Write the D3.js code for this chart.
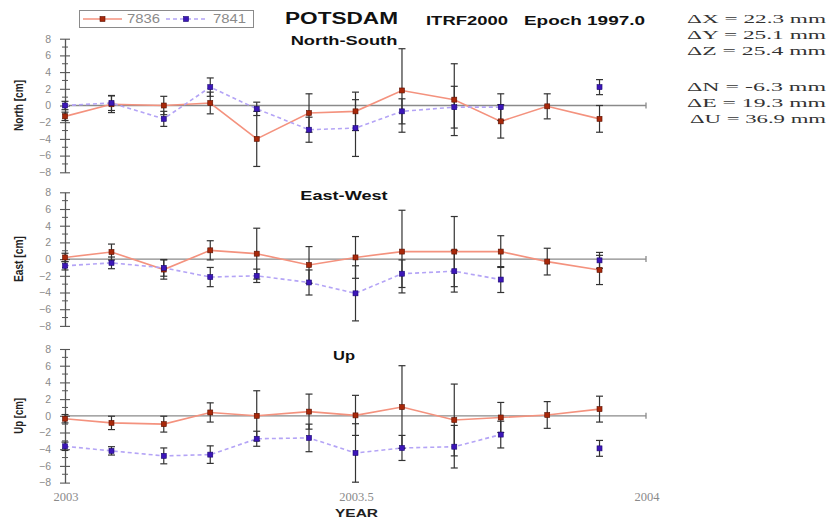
<!DOCTYPE html>
<html><head><meta charset="utf-8">
<script src="https://cdn.jsdelivr.net/npm/d3@7/dist/d3.min.js"></script>
<style>body{margin:0;background:#fff}svg{display:block}</style>
</head><body>
<svg id="chart" width="829" height="518"></svg>
<script>
// ---------------- data ----------------
const years = [2003.00, 2003.08, 2003.17, 2003.25, 2003.33, 2003.42, 2003.50, 2003.58, 2003.67, 2003.75, 2003.83, 2003.92];
const seriesNames = ["7836", "7841"];
const panelTitles = ["North-South", "East-West", "Up"];
const axisLabels = ["North [cm]", "East [cm]", "Up [cm]"];
const yTicks = [-8, -6, -4, -2, 0, 2, 4, 6, 8];
const yMinorTicks = [-7, -5, -3, -1, 1, 3, 5, 7];
const xTicks = [2003, 2003.5, 2004];
const xTickLabels = ["2003", "2003.5", "2004"];
const xAxisTitle = "YEAR";
const headerTitle = "POTSDAM";
const headerFrame = "ITRF2000";
const headerEpoch = "Epoch 1997.0";
const infoLines = ["\u0394X = 22.3 mm", "\u0394Y = 25.1 mm", "\u0394Z = 25.4 mm", "\u0394N = -6.3 mm", "\u0394E = 19.3 mm", "\u0394U = 36.9 mm"];

const north7836 = [-1.3, 0.15, 0.0, 0.3, -4.0, -0.9, -0.7, 1.8, 0.7, -1.9, -0.1, -1.6];
const north7836Err = [0.5, 1.0, 1.1, 1.3, 3.3, 2.3, 2.3, 5.0, 4.3, 2.0, 1.5, 1.6];
const north7841 = [0.0, 0.3, -1.6, 2.2, -0.4, -2.9, -2.7, -0.7, -0.2, -0.2, null, 2.2];
const north7841Err = [0.5, 0.9, 0.9, 1.1, 0.8, 1.5, 3.4, 1.5, 2.5, 1.6, null, 0.9];

const east7836 = [0.2, 0.85, -1.25, 1.05, 0.65, -0.7, 0.2, 0.9, 0.9, 0.9, -0.3, -1.3];
const east7836Err = [0.5, 0.95, 1.15, 1.15, 3.05, 2.2, 2.5, 4.95, 4.2, 1.9, 1.6, 1.75];
const east7841 = [-0.8, -0.45, -1.05, -2.15, -2.0, -2.8, -4.1, -1.75, -1.45, -2.45, null, -0.15];
const east7841Err = [0.5, 0.7, 1.0, 1.15, 0.8, 1.5, 3.3, 1.65, 2.5, 1.55, null, 0.95];

const up7836 = [-0.35, -0.85, -1.0, 0.4, 0.0, 0.5, 0.05, 1.05, -0.5, -0.2, 0.1, 0.8];
const up7836Err = [0.5, 0.8, 0.95, 1.15, 3.0, 2.1, 2.4, 4.95, 4.3, 1.8, 1.6, 1.55];
const up7841 = [-3.65, -4.2, -4.8, -4.65, -2.75, -2.65, -4.45, -3.85, -3.7, -2.25, null, -3.9];
const up7841Err = [0.5, 0.5, 0.95, 1.05, 0.9, 1.65, 3.5, 1.5, 2.55, 1.6, null, 0.95];

const panelData = [
  [[north7836, north7836Err], [north7841, north7841Err]],
  [[east7836, east7836Err], [east7841, east7841Err]],
  [[up7836, up7836Err], [up7841, up7841Err]]
];

// ---------------- drawing ----------------
const svg = d3.select("#chart");
svg.append("rect").attr("width", 829).attr("height", 518).attr("fill", "#fff");

const x = d3.scaleLinear().domain([2003, 2004]).range([65, 646]);
const panelTops = [38.7, 192.3, 349];
const panelH = 133.6;
const titleY = [44.5, 200, 359.5];

const lineColor = ["#f4927e", "#b4a4f6"];
const markFill = ["#a8280a", "#3c16b8"];
const markStroke = ["#5a1000", "#1a0870"];
const sansFont = "'Liberation Sans', Arial, sans-serif";

panelData.forEach((series, p) => {
  const y = d3.scaleLinear().domain([-8, 8]).range([panelTops[p] + panelH, panelTops[p]]);
  const g = svg.append("g");

  // zero line (horizontal axis)
  g.append("line").attr("x1", x(2003)).attr("x2", x(2004)).attr("y1", y(0)).attr("y2", y(0))
    .attr("stroke", "#8a8a8a").attr("stroke-width", 1.3);
  g.append("line").attr("x1", x(2004)).attr("x2", x(2004)).attr("y1", y(0) - 3).attr("y2", y(0) + 3)
    .attr("stroke", "#8a8a8a").attr("stroke-width", 1.3);

  // y axis
  const ax = g.append("g").attr("transform", `translate(${x(2003)},0)`)
    .call(d3.axisLeft(y).tickValues(yTicks).tickSizeInner(5).tickSizeOuter(0).tickPadding(9));
  ax.select(".domain").attr("stroke", "#555").attr("stroke-width", 1.3);
  ax.selectAll(".tick line").attr("x1", 5).attr("stroke", "#555").attr("stroke-width", 1.1);
  ax.selectAll(".tick text").attr("fill", "#8a8a8a").style("font-family", sansFont).style("font-size", "10.5px");
  g.selectAll(".minor").data(yMinorTicks).enter().append("line")
    .attr("x1", x(2003) - 3).attr("x2", x(2003) + 3)
    .attr("y1", d => y(d)).attr("y2", d => y(d))
    .attr("stroke", "#555").attr("stroke-width", 1);

  // y-axis label
  g.append("text")
    .attr("transform", `translate(23,${y(0)}) rotate(-90)`)
    .attr("text-anchor", "middle")
    .attr("textLength", axisLabels[p].length * 5.1)
    .attr("lengthAdjust", "spacingAndGlyphs")
    .style("font-family", sansFont).style("font-weight", "bold").style("font-size", "12px")
    .attr("fill", "#222").text(axisLabels[p]);

  // panel title
  g.append("text").attr("x", 344).attr("y", titleY[p]).attr("text-anchor", "middle")
    .attr("textLength", panelTitles[p] === "Up" ? 22 : panelTitles[p].length * 9.7)
    .attr("lengthAdjust", "spacingAndGlyphs")
    .style("font-family", sansFont).style("font-weight", "bold").style("font-size", "13px")
    .attr("fill", "#111").text(panelTitles[p]);

  // lines
  series.forEach(([vals], s) => {
    const pts = years.map((yr, i) => ({ yr, v: vals[i] }));
    const line = d3.line().defined(d => d.v !== null).x(d => x(d.yr)).y(d => y(d.v));
    g.append("path").attr("d", line(pts)).attr("fill", "none")
      .attr("stroke", lineColor[s]).attr("stroke-width", 1.6)
      .attr("stroke-dasharray", s === 1 ? "4,3" : null);
  });

  // error bars
  series.forEach(([vals, errs], s) => {
    const pts = years.map((yr, i) => ({ yr, v: vals[i], e: errs[i] })).filter(d => d.v !== null);
    const eg = g.append("g").attr("stroke", "#333").attr("stroke-width", 1.2);
    eg.selectAll(".eb").data(pts).enter().append("line")
      .attr("x1", d => x(d.yr)).attr("x2", d => x(d.yr))
      .attr("y1", d => y(d.v - d.e)).attr("y2", d => y(d.v + d.e));
    eg.selectAll(".ct").data(pts).enter().append("line")
      .attr("x1", d => x(d.yr) - 3.5).attr("x2", d => x(d.yr) + 3.5)
      .attr("y1", d => y(d.v + d.e)).attr("y2", d => y(d.v + d.e));
    eg.selectAll(".cb").data(pts).enter().append("line")
      .attr("x1", d => x(d.yr) - 3.5).attr("x2", d => x(d.yr) + 3.5)
      .attr("y1", d => y(d.v - d.e)).attr("y2", d => y(d.v - d.e));
  });

  // markers
  series.forEach(([vals], s) => {
    const pts = years.map((yr, i) => ({ yr, v: vals[i] })).filter(d => d.v !== null);
    g.selectAll(".m" + s).data(pts).enter().append("rect")
      .attr("x", d => x(d.yr) - 2.5).attr("y", d => y(d.v) - 2.5)
      .attr("width", 5).attr("height", 5)
      .attr("fill", markFill[s]).attr("stroke", markStroke[s]).attr("stroke-width", 0.6);
  });
});

// x tick labels (bottom)
svg.selectAll(".xt").data(xTicks).enter().append("text")
  .attr("x", d => x(d) + 1).attr("y", 501).attr("text-anchor", "middle")
  .style("font-family", "'Liberation Serif', 'Times New Roman', serif").style("font-size", "12.5px")
  .attr("fill", "#8a8a8a").text((d, i) => xTickLabels[i]);
svg.append("text").attr("x", x(2003.5) + 1).attr("y", 517).attr("text-anchor", "middle")
  .attr("textLength", 43).attr("lengthAdjust", "spacingAndGlyphs")
  .style("font-family", sansFont).style("font-weight", "bold").style("font-size", "10.5px")
  .attr("fill", "#222").text(xAxisTitle);

// legend
const lg = svg.append("g");
lg.append("rect").attr("x", 79.5).attr("y", 10.5).attr("width", 174).attr("height", 17)
  .attr("fill", "#fff").attr("stroke", "#8a8a8a").attr("stroke-width", 1);
const legendItems = [{ x0: 83, x1: 122, tx: 127 }, { x0: 166, x1: 206, tx: 213 }];
seriesNames.forEach((name, s) => {
  const it = legendItems[s];
  lg.append("line").attr("x1", it.x0).attr("x2", it.x1).attr("y1", 19).attr("y2", 19)
    .attr("stroke", lineColor[s]).attr("stroke-width", 1.6).attr("stroke-dasharray", s === 1 ? "4,3" : null);
  lg.append("rect").attr("x", (it.x0 + it.x1) / 2 - 2.5).attr("y", 16.5).attr("width", 5).attr("height", 5)
    .attr("fill", markFill[s]).attr("stroke", markStroke[s]).attr("stroke-width", 0.6);
  lg.append("text").attr("x", it.tx).attr("y", 23).attr("textLength", 33).attr("lengthAdjust", "spacingAndGlyphs")
    .style("font-family", sansFont).style("font-size", "12px").attr("fill", "#8a8a8a").text(name);
});

// header titles
svg.append("text").attr("x", 285).attr("y", 24).attr("textLength", 113).attr("lengthAdjust", "spacingAndGlyphs")
  .style("font-family", sansFont).style("font-weight", "bold").style("font-size", "16px").attr("fill", "#111").text(headerTitle);
svg.append("text").attr("x", 426).attr("y", 24.5).attr("textLength", 82).attr("lengthAdjust", "spacingAndGlyphs")
  .style("font-family", sansFont).style("font-weight", "bold").style("font-size", "12px").attr("fill", "#111").text(headerFrame);
svg.append("text").attr("x", 524).attr("y", 24.5).attr("textLength", 121).attr("lengthAdjust", "spacingAndGlyphs")
  .style("font-family", sansFont).style("font-weight", "bold").style("font-size", "12px").attr("fill", "#111").text(headerEpoch);

// info text (right)
const infoY = [23, 39, 55, 91, 107, 123];
svg.selectAll(".info").data(infoLines).enter().append("text")
  .attr("x", (d, i) => i === 5 ? 690 : 687).attr("y", (d, i) => infoY[i])
  .attr("textLength", (d, i) => i === 5 ? 136 : 139).attr("lengthAdjust", "spacingAndGlyphs")
  .style("font-family", "'Liberation Serif', 'Times New Roman', serif").style("font-size", "13.5px")
  .attr("fill", "#333").text(d => d);
</script>
</body></html>
